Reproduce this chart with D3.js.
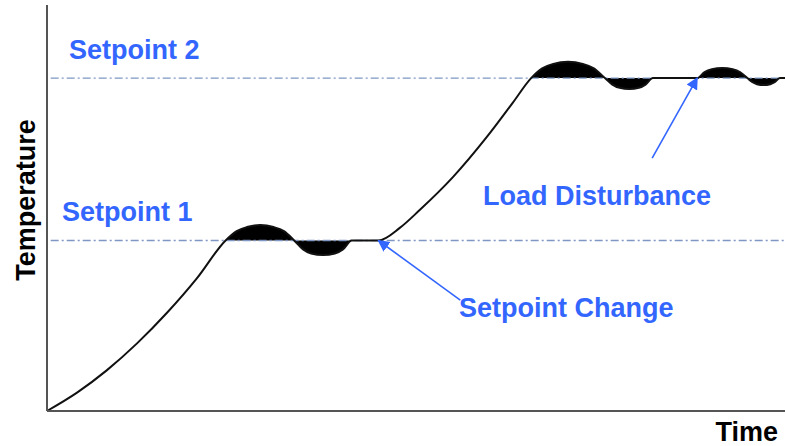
<!DOCTYPE html>
<html>
<head>
<meta charset="utf-8">
<script src="https://cdn.jsdelivr.net/npm/d3@7"></script>
<style>
  body { margin: 0; background: #fff; }
  text { font-family: Arial, "Liberation Sans", sans-serif; font-weight: bold; }
</style>
</head>
<body>
<svg width="785" height="446"></svg>
<script>
// response curve, time and temperature in arbitrary units
var time = [0, 4.07, 8.13, 12.2, 16.26, 20.33, 24.2,
            25.7, 27.1, 28.9, 30.7, 32.1, 33.5,
            34.7, 35.8, 37.4, 39.0, 40.1, 41.3, 43.1, 44.9,
            47.8, 50.5, 55.0, 59.6, 63.1, 65.6,
            67.1, 68.6, 70.6, 72.6, 74.1, 75.6,
            76.6, 77.6, 78.9, 80.2, 81.1, 82.1, 85.1, 88.1,
            89.1, 90.1, 91.5, 92.9, 93.9, 94.9,
            95.6, 96.2, 97.1, 98.0, 98.6, 99.3, 100];
var temp = [0, 4.53, 10.07, 16.65, 24.19, 32.73, 42,
            44.3, 45.3, 45.8, 45.3, 44.3, 42,
            39.8, 38.8, 38.4, 38.8, 39.8, 42, 42, 42,
            45.1, 49.5, 57.6, 67.5, 75.9, 82,
            84.4, 85.5, 86.0, 85.5, 84.4, 82,
            80.4, 79.6, 79.3, 79.6, 80.4, 82, 82, 82,
            83.5, 84.2, 84.5, 84.2, 83.5, 82,
            81.0, 80.5, 80.3, 80.5, 81.0, 82, 82];

// setpoints and the time windows where the curve settles around them
var setpoints = [42, 82];
var setpointLabels = ["Setpoint 1", "Setpoint 2"];
var settleWindows = [[24.2, 44.9], [65.6, 100]];

// annotations: arrow tip, arrow tail, label
var notes = [
  { label: "Setpoint Change", tip: [44.9, 42], tail: [56.0, 27.3] },
  { label: "Load Disturbance", tip: [88.1, 82], tail: [82.0, 62.3] }
];

var data = time.map(function(t, i) { return { t: t, v: temp[i] }; });

var svg = d3.select("svg");
var blue = "#3366ff";

var x = d3.scaleLinear().domain([0, 100]).range([47, 785]);
var y = d3.scaleLinear().domain([0, 100]).range([411, 5]);

var defs = svg.append("defs");
defs.append("marker")
    .attr("id", "head")
    .attr("viewBox", "0 0 10 10")
    .attr("refX", 9).attr("refY", 5)
    .attr("markerWidth", 12).attr("markerHeight", 12)
    .attr("markerUnits", "userSpaceOnUse")
    .attr("orient", "auto")
  .append("path")
    .attr("d", "M0,0L10,5L0,10Z")
    .attr("fill", blue);

settleWindows.forEach(function(w, i) {
  defs.append("clipPath").attr("id", "clip" + i)
    .append("rect")
      .attr("x", x(w[0])).attr("width", x(w[1]) - x(w[0]))
      .attr("y", 0).attr("height", 446);
});

var curve = d3.curveMonotoneX;

// black fill between response and setpoint
setpoints.forEach(function(sp, i) {
  svg.append("path")
      .datum(data)
      .attr("clip-path", "url(#clip" + i + ")")
      .attr("fill", "#000")
      .attr("d", d3.area().curve(curve)
        .x(function(d) { return x(d.t); })
        .y0(y(sp))
        .y1(function(d) { return y(d.v); }));
});

// setpoint dash-dot lines
svg.selectAll(".sp")
  .data(setpoints)
  .enter().append("line")
    .attr("x1", x(0.5)).attr("x2", x(100))
    .attr("y1", function(d) { return y(d); })
    .attr("y2", function(d) { return y(d); })
    .attr("stroke", "#7f97c2")
    .attr("stroke-width", 1.3)
    .attr("stroke-dasharray", "8,3,2,3");

svg.selectAll(".splabel")
  .data(setpoints)
  .enter().append("text")
    .attr("x", function(d, i) { return i == 0 ? 62 : 69; })
    .attr("y", function(d) { return y(d) - 19; })
    .attr("fill", blue)
    .attr("font-size", 27)
    .text(function(d, i) { return setpointLabels[i]; });

// response line
svg.append("path")
    .datum(data)
    .attr("fill", "none")
    .attr("stroke", "#111")
    .attr("stroke-width", 2)
    .attr("d", d3.line().curve(curve)
      .x(function(d) { return x(d.t); })
      .y(function(d) { return y(d.v); }));

// axes (plain lines, no ticks)
svg.append("line")
    .attr("x1", x(0)).attr("x2", x(0))
    .attr("y1", y(100)).attr("y2", y(0))
    .attr("stroke", "#555").attr("stroke-width", 2);
svg.append("line")
    .attr("x1", x(0)).attr("x2", x(100))
    .attr("y1", y(0)).attr("y2", y(0))
    .attr("stroke", "#555").attr("stroke-width", 2);

svg.append("text")
    .attr("transform", "translate(35," + 200 + ") rotate(-90)")
    .attr("text-anchor", "middle")
    .attr("font-size", 27)
    .attr("fill", "#000")
    .text("Temperature");

svg.append("text")
    .attr("x", 778).attr("y", 441)
    .attr("text-anchor", "end")
    .attr("font-size", 27)
    .attr("fill", "#000")
    .text("Time");

// annotations
notes.forEach(function(n, i) {
  svg.append("line")
      .attr("x1", x(n.tail[0])).attr("y1", y(n.tail[1]))
      .attr("x2", x(n.tip[0])).attr("y2", y(n.tip[1]))
      .attr("stroke", blue).attr("stroke-width", 1.6)
      .attr("marker-end", "url(#head)");
});

svg.append("text")
    .attr("x", 459).attr("y", 317)
    .attr("fill", blue).attr("font-size", 27)
    .text(notes[0].label);
svg.append("text")
    .attr("x", 483).attr("y", 205)
    .attr("fill", blue).attr("font-size", 27)
    .text(notes[1].label);
</script>
</body>
</html>
